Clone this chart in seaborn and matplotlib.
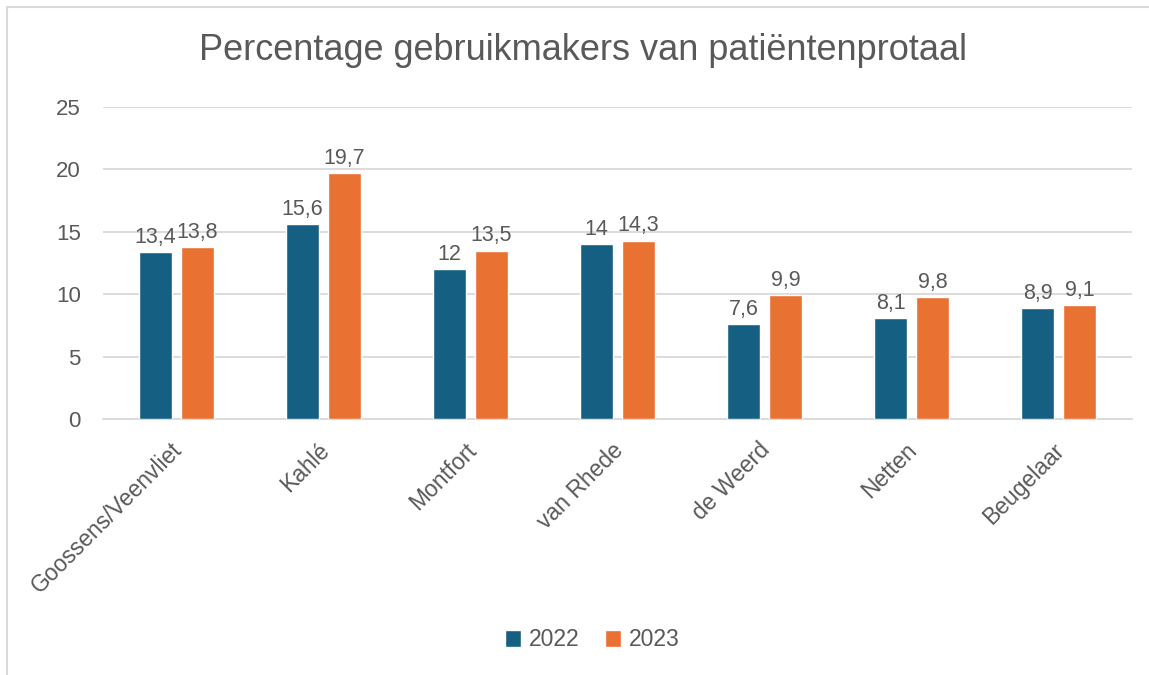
import matplotlib
matplotlib.use("Agg")
import matplotlib.pyplot as plt
import matplotlib.transforms as mtransforms
import seaborn as sns
import pandas as pd
from matplotlib.patches import Rectangle

categories = ["Goossens/Veenvliet", "Kahlé", "Montfort", "van Rhede", "de Weerd", "Netten", "Beugelaar"]
years = ["2022", "2023"]
values_2022 = [13.4, 15.6, 12, 14, 7.6, 8.1, 8.9]
values_2023 = [13.8, 19.7, 13.5, 14.3, 9.9, 9.8, 9.1]
y_ticks = [0, 5, 10, 15, 20, 25]
title = "Percentage gebruikmakers van patiëntenprotaal"

df = pd.DataFrame({
    "cat": categories * 2,
    "year": [years[0]] * len(categories) + [years[1]] * len(categories),
    "val": values_2022 + values_2023,
})

sns.set_theme(style="white")
plt.rcParams["font.family"] = ["Liberation Sans", "DejaVu Sans"]
text_color = "#595959"
grid_color = "#D9D9D9"

fig = plt.figure(figsize=(11.49, 6.75), dpi=100)
ax = fig.add_axes([103 / 1149, 1 - 419 / 675, (1132 - 103) / 1149, (419 - 107) / 675])

palette = {"2022": "#156082", "2023": "#E97132"}
sns.barplot(data=df, x="cat", y="val", hue="year", hue_order=years, palette=palette,
            width=0.572, gap=0.214, ax=ax, saturation=1, legend=True, zorder=3)

ax.set_ylim(0, 25)
ax.set_yticks(y_ticks)
ax.set_yticklabels([str(t) for t in y_ticks], fontsize=16, color=text_color)
ax.tick_params(axis="y", length=0, pad=16)
ax.tick_params(axis="x", length=0, pad=14)
ax.set_xlim(-0.5, len(categories) - 0.5)
ax.yaxis.grid(True, color=grid_color, linewidth=1.3, zorder=0)
ax.set_axisbelow(True)
for s in ["left", "right", "top"]:
    ax.spines[s].set_visible(False)
ax.spines["bottom"].set_color(grid_color)
ax.spines["bottom"].set_linewidth(1.3)
ax.set_xlabel("")
ax.set_ylabel("")

ax.set_xticks(range(len(categories)))
ax.set_xticklabels(categories, rotation=45, ha="right", va="top", rotation_mode="anchor",
                   fontsize=16.5, color=text_color)
offset = mtransforms.ScaledTranslation(-6 / 100, 0, fig.dpi_scale_trans)
for lbl in ax.get_xticklabels():
    lbl.set_transform(lbl.get_transform() + offset)

def fmt(v):
    if float(v).is_integer():
        return str(int(v))
    return f"{v:.1f}".replace(".", ",")

for cont in ax.containers:
    ax.bar_label(cont, labels=[fmt(b.get_height()) for b in cont], padding=3,
                 fontsize=15.5, color=text_color)

leg = ax.legend(loc="center", bbox_to_anchor=(592 / 1149, 1 - 640 / 675), bbox_transform=fig.transFigure,
                ncol=2, frameon=False, fontsize=16.5, handlelength=0.7, handleheight=0.7,
                handletextpad=0.35, columnspacing=1.1)
for t in leg.get_texts():
    t.set_color(text_color)

fig.text(583 / 1149, 1 - 50 / 675, title, ha="center", va="center", fontsize=26, color=text_color)

fig.add_artist(Rectangle((7 / 1149, -0.05), 1.2, 1 - 7 / 675 + 0.05, transform=fig.transFigure,
                         fill=False, edgecolor=grid_color, linewidth=1.5))

fig.savefig("out.png", dpi=100, facecolor="white")
